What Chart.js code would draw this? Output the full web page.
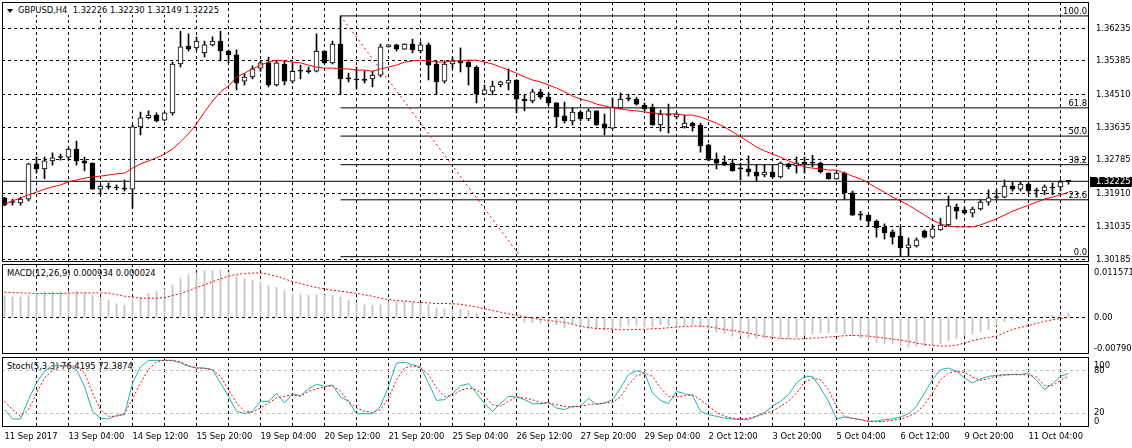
<!DOCTYPE html>
<html>
<head>
<meta charset="utf-8">
<title>GBPUSD,H4</title>
<script src="https://cdn.jsdelivr.net/npm/chart.js@4.4.1/dist/chart.umd.min.js"></script>
<style>
  html, body { margin: 0; padding: 0; background: #ffffff; }
  #chart { position: relative; width: 1132px; height: 448px; overflow: hidden; background: #ffffff;
           font-family: "DejaVu Sans Condensed", "Liberation Sans Narrow", sans-serif;
           font-size: 9.3px; color: #000; }
  #chart canvas { position: absolute; left: 0; z-index: 1; }
  .caption { position: absolute; z-index: 0; white-space: pre; line-height: 12px; }
  #head { position: absolute; left: 3px; top: 3px; width: 218px; height: 12px; background: #fff; z-index: 2; }
  #head .tri { position: absolute; left: 4px; top: 6px; width: 0; height: 0;
               border-left: 3px solid transparent; border-right: 3px solid transparent; border-top: 4px solid #000; }
  #head .txt { position: absolute; left: 15px; top: 1px; white-space: pre; line-height: 12px; }
</style>
</head>
<body>
<div id="chart">
  <div id="head"><div class="tri"></div><div class="txt">GBPUSD,H4  1.32226 1.32230 1.32149 1.32225</div></div>
  <div class="caption" style="left:7px;top:267px">MACD(12,26,9) 0.000934 0.000024</div>
  <div class="caption" style="left:7px;top:360px">Stoch(5,3,3) 76.4195 72.3874</div>
  <canvas id="priceChart" width="1132" height="263" style="top:0"></canvas>
  <canvas id="macdChart" width="1132" height="92" style="top:263px"></canvas>
  <canvas id="stochChart" width="1132" height="93" style="top:355px"></canvas>
</div>
<script>
// H4 bars, oldest first (11 Sep 2017 .. 12 Oct 2017)
const dateLabels = ['11 Sep 2017', '13 Sep 04:00', '14 Sep 12:00', '15 Sep 20:00', '19 Sep 04:00',
  '20 Sep 12:00', '21 Sep 20:00', '25 Sep 04:00', '26 Sep 12:00', '27 Sep 20:00', '29 Sep 04:00',
  '2 Oct 12:00', '3 Oct 20:00', '5 Oct 04:00', '6 Oct 12:00', '9 Oct 20:00', '11 Oct 04:00'];

const openP = [
  1.3179, 1.3168, 1.3166, 1.3176, 1.3268, 1.3255, 1.3276, 1.3286, 1.3286, 1.3307,
  1.3276, 1.3270, 1.3202, 1.3208, 1.3205, 1.3203, 1.3202, 1.3365, 1.3389, 1.3396,
  1.3383, 1.3402, 1.3530, 1.3577, 1.3572, 1.3559, 1.3580, 1.3590, 1.3564, 1.3554,
  1.3485, 1.3496, 1.3519, 1.3533, 1.3475, 1.3530, 1.3485, 1.3512, 1.3510, 1.3511,
  1.3564, 1.3533, 1.3582, 1.3493, 1.3489, 1.3487, 1.3491, 1.3501, 1.3575, 1.3580,
  1.3569, 1.3582, 1.3564, 1.3580, 1.3530, 1.3485, 1.3530, 1.3538, 1.3535, 1.3522,
  1.3451, 1.3459, 1.3475, 1.3480, 1.3488, 1.3438, 1.3433, 1.3457, 1.3443, 1.3428,
  1.3394, 1.3381, 1.3404, 1.3386, 1.3407, 1.3373, 1.3362, 1.3415, 1.3438, 1.3438,
  1.3422, 1.3417, 1.3370, 1.3399, 1.3391, 1.3365, 1.3375, 1.3370, 1.3318, 1.3281,
  1.3273, 1.3270, 1.3256, 1.3255, 1.3247, 1.3239, 1.3247, 1.3234, 1.3268, 1.3263,
  1.3273, 1.3271, 1.3270, 1.3244, 1.3229, 1.3244, 1.3192, 1.3135, 1.3134, 1.3118,
  1.3103, 1.3090, 1.3079, 1.3048, 1.3053, 1.3092, 1.3076, 1.3095, 1.3108, 1.3155,
  1.3147, 1.3139, 1.3150, 1.3168, 1.3181, 1.3181, 1.3210, 1.3202, 1.3215, 1.3198,
  1.3197, 1.3206, 1.3208, 1.32226];
const highP = [
  1.3181, 1.3176, 1.3181, 1.3270, 1.3286, 1.3286, 1.3297, 1.3294, 1.3310, 1.3328,
  1.3286, 1.3271, 1.3213, 1.3218, 1.3213, 1.3226, 1.3370, 1.3404, 1.3407, 1.3402,
  1.3404, 1.3535, 1.3616, 1.3609, 1.3601, 1.3590, 1.3601, 1.3616, 1.3567, 1.3567,
  1.3504, 1.3525, 1.3538, 1.3548, 1.3540, 1.3538, 1.3535, 1.3527, 1.3522, 1.3609,
  1.3565, 1.3590, 1.3656, 1.3506, 1.3522, 1.3511, 1.3511, 1.3582, 1.3581, 1.3582,
  1.3583, 1.3595, 1.3588, 1.3585, 1.3538, 1.3538, 1.3548, 1.3572, 1.3540, 1.3525,
  1.3475, 1.3485, 1.3485, 1.3517, 1.3489, 1.3451, 1.3464, 1.3464, 1.3454, 1.3429,
  1.3430, 1.3415, 1.3407, 1.3412, 1.3408, 1.3399, 1.3441, 1.3454, 1.3451, 1.3443,
  1.3428, 1.3425, 1.3409, 1.3425, 1.3402, 1.3396, 1.3378, 1.3375, 1.3319, 1.3297,
  1.3289, 1.3281, 1.3270, 1.3289, 1.3265, 1.3265, 1.3265, 1.3273, 1.3270, 1.3286,
  1.3286, 1.3291, 1.3273, 1.3245, 1.3247, 1.3247, 1.3197, 1.3144, 1.3135, 1.3121,
  1.3111, 1.3095, 1.3103, 1.3074, 1.3074, 1.3095, 1.3108, 1.3126, 1.3184, 1.3163,
  1.3155, 1.3155, 1.3174, 1.3200, 1.3200, 1.3226, 1.3221, 1.3221, 1.3218, 1.3205,
  1.3213, 1.3218, 1.3226, 1.32230];
const lowP = [
  1.3158, 1.3160, 1.3160, 1.3171, 1.3244, 1.3229, 1.3265, 1.3278, 1.3278, 1.3265,
  1.3250, 1.3201, 1.3187, 1.3202, 1.3200, 1.3197, 1.3152, 1.3344, 1.3386, 1.3378,
  1.3381, 1.3396, 1.3522, 1.3564, 1.3567, 1.3548, 1.3577, 1.3538, 1.3533, 1.3462,
  1.3475, 1.3491, 1.3511, 1.3470, 1.3472, 1.3475, 1.3480, 1.3491, 1.3506, 1.3509,
  1.3530, 1.3530, 1.3451, 1.3483, 1.3464, 1.3480, 1.3470, 1.3496, 1.3574, 1.3564,
  1.3568, 1.3559, 1.3559, 1.3488, 1.3451, 1.3480, 1.3519, 1.3509, 1.3475, 1.3428,
  1.3449, 1.3449, 1.3470, 1.3462, 1.3402, 1.3407, 1.3428, 1.3438, 1.3422, 1.3365,
  1.3375, 1.3370, 1.3381, 1.3381, 1.3369, 1.3344, 1.3360, 1.3412, 1.3433, 1.3422,
  1.3407, 1.3369, 1.3354, 1.3349, 1.3386, 1.3362, 1.3354, 1.3299, 1.3276, 1.3255,
  1.3264, 1.3249, 1.3226, 1.3236, 1.3223, 1.3234, 1.3231, 1.3231, 1.3255, 1.3244,
  1.3244, 1.3260, 1.3244, 1.3228, 1.3228, 1.3176, 1.3133, 1.3121, 1.3105, 1.3076,
  1.3071, 1.3058, 1.3027, 1.3027, 1.3050, 1.3074, 1.3075, 1.3094, 1.3105, 1.3124,
  1.3138, 1.3129, 1.3147, 1.3160, 1.3176, 1.3179, 1.3197, 1.3197, 1.3192, 1.3181,
  1.3187, 1.3187, 1.3197, 1.32149];
const closeP = [
  1.3160, 1.3167, 1.3176, 1.3268, 1.3255, 1.3276, 1.3284, 1.3285, 1.3307, 1.3276,
  1.3270, 1.3202, 1.3210, 1.3207, 1.3206, 1.3202, 1.3365, 1.3389, 1.3396, 1.3381,
  1.3402, 1.3530, 1.3575, 1.3569, 1.3590, 1.3580, 1.3590, 1.3564, 1.3554, 1.3480,
  1.3496, 1.3517, 1.3533, 1.3475, 1.3533, 1.3485, 1.3511, 1.3511, 1.3511, 1.3564,
  1.3533, 1.3582, 1.3491, 1.3491, 1.3488, 1.3488, 1.3501, 1.3575, 1.3580, 1.3569,
  1.3582, 1.3567, 1.3580, 1.3527, 1.3483, 1.3530, 1.3538, 1.3533, 1.3522, 1.3451,
  1.3462, 1.3472, 1.3483, 1.3488, 1.3438, 1.3433, 1.3457, 1.3443, 1.3428, 1.3391,
  1.3381, 1.3404, 1.3386, 1.3407, 1.3370, 1.3362, 1.3417, 1.3438, 1.3439, 1.3425,
  1.3412, 1.3370, 1.3399, 1.3396, 1.3399, 1.3375, 1.3367, 1.3315, 1.3278, 1.3270,
  1.3265, 1.3250, 1.3255, 1.3247, 1.3236, 1.3247, 1.3234, 1.3270, 1.3260, 1.3270,
  1.3268, 1.3270, 1.3247, 1.3229, 1.3244, 1.3192, 1.3134, 1.3134, 1.3118, 1.3100,
  1.3087, 1.3076, 1.3048, 1.3056, 1.3069, 1.3076, 1.3098, 1.3108, 1.3158, 1.3144,
  1.3139, 1.3150, 1.3168, 1.3179, 1.3180, 1.3210, 1.3202, 1.3215, 1.3197, 1.3197,
  1.3208, 1.3205, 1.3221, 1.32225];

// red moving average on the price window
const maLine = [
  1.3163, 1.3171, 1.3179, 1.3187, 1.3194, 1.3202, 1.3208, 1.3213, 1.3221, 1.3226,
  1.3231, 1.3234, 1.3236, 1.3239, 1.3242, 1.3244, 1.3257, 1.3268, 1.3276, 1.3284,
  1.3294, 1.3307, 1.3326, 1.3347, 1.3373, 1.3404, 1.3433, 1.3457, 1.3472, 1.3496,
  1.3506, 1.3517, 1.3527, 1.3535, 1.3540, 1.3538, 1.3535, 1.3533, 1.3527, 1.3522,
  1.3519, 1.3519, 1.3517, 1.3517, 1.3514, 1.3514, 1.3511, 1.3517, 1.3522, 1.3527,
  1.3535, 1.3538, 1.3540, 1.3538, 1.3535, 1.3535, 1.3538, 1.3538, 1.3540, 1.3540,
  1.3535, 1.3530, 1.3522, 1.3514, 1.3506, 1.3496, 1.3488, 1.3483, 1.3475, 1.3467,
  1.3457, 1.3446, 1.3438, 1.3433, 1.3425, 1.3420, 1.3415, 1.3412, 1.3409, 1.3407,
  1.3404, 1.3402, 1.3399, 1.3399, 1.3399, 1.3396, 1.3396, 1.3391, 1.3383, 1.3375,
  1.3365, 1.3352, 1.3339, 1.3326, 1.3312, 1.3302, 1.3294, 1.3286, 1.3276, 1.3268,
  1.3260, 1.3257, 1.3255, 1.3252, 1.3252, 1.3244, 1.3236, 1.3229, 1.3218, 1.3205,
  1.3194, 1.3181, 1.3171, 1.3160, 1.3147, 1.3134, 1.3121, 1.3111, 1.3105, 1.3103,
  1.3103, 1.3103, 1.3108, 1.3116, 1.3124, 1.3134, 1.3144, 1.3152, 1.3160, 1.3168,
  1.3176, 1.3181, 1.3187, 1.3194];

const priceTicks = [1.30185, 1.31035, 1.31910, 1.32785, 1.33635, 1.34510, 1.35385, 1.36235];

// Fibonacci retracement from the 20 Sep high (bar 42) to the 6 Oct low
const fibLevels = ['0.0', '23.6', '38.2', '50.0', '61.8', '100.0'];
const fibPrices = [1.3025, 1.3174, 1.3266, 1.3341, 1.3415, 1.3656];
const fibStartBar = 42;
const fibTrendBars = [42, 64.5];
const fibTrendPrices = [1.3656, 1.3025];

const macdMain = [
  0.00475, 0.00439, 0.00439, 0.00475, 0.00518, 0.00546, 0.00546, 0.00546, 0.00561, 0.00568,
  0.00532, 0.00475, 0.00439, 0.00367, 0.00295, 0.00259, 0.00388, 0.00439, 0.00525, 0.00561,
  0.00618, 0.00705, 0.00848, 0.00928, 0.00963, 0.01007, 0.01014, 0.01021, 0.00978, 0.00906,
  0.00834, 0.00805, 0.00762, 0.00690, 0.00654, 0.00582, 0.00510, 0.00503, 0.00475, 0.00489,
  0.00489, 0.00475, 0.00439, 0.00367, 0.00331, 0.00273, 0.00259, 0.00273, 0.00345, 0.00331,
  0.00331, 0.00331, 0.00309, 0.00273, 0.00201, 0.00187, 0.00173, 0.00173, 0.00151, 0.00079,
  0.00029, 0.00005, -0.00005, -0.00014, -0.00029, -0.00101, -0.00115, -0.00115, -0.00137, -0.00158,
  -0.00216, -0.00137, -0.00209, -0.00244, -0.00259, -0.00280, -0.00244, -0.00209, -0.00173, -0.00173,
  -0.00209, -0.00209, -0.00158, -0.00173, -0.00187, -0.00173, -0.00158, -0.00209, -0.00244, -0.00316,
  -0.00352, -0.00403, -0.00403, -0.00446, -0.00460, -0.00446, -0.00431, -0.00446, -0.00460, -0.00431,
  -0.00388, -0.00352, -0.00331, -0.00331, -0.00331, -0.00352, -0.00388, -0.00446, -0.00475, -0.00532,
  -0.00568, -0.00568, -0.00618, -0.00640, -0.00618, -0.00618, -0.00604, -0.00568, -0.00496, -0.00446,
  -0.00403, -0.00352, -0.00302, -0.00259, -0.00173, -0.00086, -0.00043, -0.00029, -0.00014, 0.00003,
  0.00029, 0.00043, 0.00058, 0.00093];
const macdSignal = [
  0.00546, 0.00539, 0.00532, 0.00525, 0.00518, 0.00518, 0.00518, 0.00518, 0.00525, 0.00532,
  0.00532, 0.00532, 0.00532, 0.00525, 0.00496, 0.00460, 0.00439, 0.00417, 0.00417, 0.00417,
  0.00431, 0.00475, 0.00518, 0.00575, 0.00647, 0.00705, 0.00777, 0.00834, 0.00892, 0.00935,
  0.00949, 0.00963, 0.00963, 0.00935, 0.00892, 0.00834, 0.00777, 0.00733, 0.00690, 0.00647,
  0.00618, 0.00590, 0.00568, 0.00546, 0.00525, 0.00489, 0.00460, 0.00417, 0.00388, 0.00367,
  0.00352, 0.00338, 0.00324, 0.00316, 0.00302, 0.00302, 0.00295, 0.00288, 0.00259, 0.00230,
  0.00187, 0.00151, 0.00115, 0.00079, 0.00043, 0.00014, -0.00014, -0.00043, -0.00065, -0.00086,
  -0.00108, -0.00144, -0.00194, -0.00216, -0.00237, -0.00244, -0.00252, -0.00266, -0.00266, -0.00259,
  -0.00259, -0.00244, -0.00237, -0.00223, -0.00209, -0.00194, -0.00187, -0.00187, -0.00201, -0.00230,
  -0.00259, -0.00280, -0.00309, -0.00338, -0.00381, -0.00410, -0.00431, -0.00453, -0.00460, -0.00467,
  -0.00460, -0.00446, -0.00439, -0.00424, -0.00410, -0.00395, -0.00388, -0.00395, -0.00403, -0.00424,
  -0.00446, -0.00467, -0.00489, -0.00518, -0.00554, -0.00582, -0.00604, -0.00618, -0.00618, -0.00597,
  -0.00554, -0.00503, -0.00460, -0.00431, -0.00403, -0.00331, -0.00259, -0.00216, -0.00173, -0.00129,
  -0.00086, -0.00050, -0.00022, 0.00002];

const stochK = [
  24.8, 11.5, 11.5, 39.1, 62.9, 79.5, 87.6, 87.6, 87.6, 81.9,
  58.1, 22.4, 12.4, 11.5, 16.7, 17.6, 62.9, 85.7, 95.2, 95.2,
  95.2, 95.2, 91.4, 86.7, 84.3, 84.3, 81.9, 62.9, 43.8, 22.4,
  19.0, 22.4, 36.7, 36.7, 47.6, 34.3, 47.1, 44.8, 54.3, 61.0,
  58.1, 60.0, 42.9, 36.7, 19.0, 19.0, 19.0, 29.5, 58.1, 91.4,
  92.4, 89.0, 85.7, 62.9, 38.1, 39.1, 47.6, 59.0, 61.9, 48.6,
  33.3, 22.4, 33.3, 43.8, 42.9, 39.1, 33.3, 33.3, 35.2, 27.1,
  24.8, 29.5, 29.5, 41.4, 31.9, 34.3, 39.1, 55.7, 74.8, 80.5,
  77.1, 48.6, 38.1, 33.3, 51.0, 47.6, 44.8, 22.4, 17.6, 15.3,
  12.9, 11.5, 10.5, 10.5, 15.3, 21.0, 29.5, 36.7, 46.2, 62.9,
  72.4, 72.4, 55.7, 36.7, 11.5, 14.3, 12.4, 10.5, 7.6, 8.6,
  10.5, 11.5, 14.3, 19.0, 29.5, 48.6, 67.6, 81.9, 84.3, 79.5,
  70.0, 62.9, 68.6, 72.4, 73.8, 74.8, 75.2, 75.2, 77.1, 66.7,
  53.3, 61.9, 72.4, 76.4];
const stochD = [
  36.7, 24.8, 15.3, 24.8, 48.6, 70.0, 81.0, 86.7, 87.6, 86.7,
  77.1, 48.6, 24.8, 15.3, 15.3, 19.0, 40.0, 62.9, 81.9, 93.3,
  95.2, 95.2, 93.3, 87.6, 84.3, 83.8, 81.9, 72.4, 53.3, 34.3,
  22.4, 21.0, 27.2, 34.3, 41.4, 43.8, 46.2, 43.8, 51.0, 54.3,
  57.2, 59.0, 51.0, 36.7, 27.2, 22.4, 21.0, 24.8, 41.4, 67.6,
  84.3, 87.6, 84.3, 74.8, 55.7, 43.8, 44.8, 52.4, 55.7, 53.3,
  43.8, 31.9, 29.5, 36.7, 42.9, 41.4, 39.1, 34.3, 34.3, 31.9,
  29.5, 28.6, 29.5, 31.9, 33.3, 34.3, 35.2, 42.9, 60.5, 73.3,
  77.1, 72.4, 55.7, 43.8, 42.9, 44.8, 46.2, 39.1, 29.5, 21.0,
  15.3, 12.4, 11.5, 12.4, 15.3, 19.0, 22.9, 29.5, 36.7, 48.6,
  63.8, 69.5, 67.6, 53.3, 29.5, 15.3, 12.4, 10.5, 8.6, 7.6,
  8.1, 9.6, 11.5, 15.3, 21.0, 31.9, 48.6, 67.6, 77.1, 79.5,
  78.1, 71.4, 66.7, 69.5, 72.4, 73.8, 74.8, 74.8, 74.3, 71.4,
  59.0, 59.0, 66.7, 72.4];

const FONT = '"DejaVu Sans Condensed", "Liberation Sans Narrow", sans-serif';
const FONT_PX = 9.3;
Chart.defaults.font.family = FONT;
Chart.defaults.font.size = FONT_PX;
Chart.defaults.color = '#000';

// visible bar window: 8 px per bar, plot 2..1089
const xMin = -0.3125;
const xMax = 135.5625;
const gridBars = Array.from({ length: 33 }, (_, k) => 4 * (k + 1));
const lastClose = closeP[closeP.length - 1];
const pts = (arr) => arr.map((v, i) => ({ x: i, y: v }));

// keep the plot edges where they are: no extra room for tick labels
function fitY(s) {
  s.width = 43;
  s.paddingTop = 0;
  s.paddingBottom = 0;
}

function xAxis(withLabels) {
  return {
    type: 'linear', min: xMin, max: xMax, offset: false, bounds: 'data',
    afterBuildTicks: (s) => { s.ticks = (withLabels ? [0].concat(gridBars) : gridBars).map(v => ({ value: v })); },
    afterFit: (s) => { s.height = withLabels ? 21 : 0; s.paddingLeft = 0; s.paddingRight = 0; },
    grid: { offset: false, drawTicks: false, color: (c) => (c.tick && c.tick.value === 0 ? 'rgba(0,0,0,0)' : '#000') },
    border: { display: false, dash: [3, 3] },
    ticks: {
      display: withLabels, autoSkip: false, maxRotation: 0, minRotation: 0, align: 'start', padding: 4,
      callback: (v) => (v % 8 === 0 ? dateLabels[v / 8] : '')
    }
  };
}

const frame = {
  id: 'frame',
  afterDraw(chart) {
    const { ctx, chartArea: a } = chart;
    ctx.save();
    ctx.strokeStyle = '#000';
    ctx.lineWidth = 1;
    ctx.strokeRect(Math.round(a.left) + 0.5, Math.round(a.top) + 0.5,
      Math.round(a.right - a.left) - 1, Math.round(a.bottom - a.top) - 1);
    ctx.restore();
  }
};

const edgeLabels = {
  id: 'edgeLabels',
  afterDraw(chart, args, opts) {
    const { ctx, chartArea: a } = chart;
    ctx.save();
    ctx.font = FONT_PX + 'px ' + FONT;
    ctx.fillStyle = '#000';
    ctx.textAlign = 'left';
    ctx.textBaseline = 'alphabetic';
    ctx.fillText(opts.top, a.right + 5, a.top + 11);
    ctx.fillText(opts.bottom, a.right + 5, a.bottom - 3);
    ctx.restore();
  }
};

const fibText = {
  id: 'fibText',
  afterDatasetsDraw(chart) {
    const { ctx, chartArea: a, scales: { y } } = chart;
    ctx.save();
    ctx.font = FONT_PX + 'px ' + FONT;
    ctx.fillStyle = '#000';
    ctx.textAlign = 'right';
    ctx.textBaseline = 'alphabetic';
    fibPrices.forEach((p, k) => ctx.fillText(fibLevels[k], a.right - 2, Math.round(y.getPixelForValue(p)) - 2));
    ctx.restore();
  }
};

const priceBox = {
  id: 'priceBox',
  afterDraw(chart) {
    const { ctx, chartArea: a, scales: { y } } = chart;
    const py = Math.round(y.getPixelForValue(lastClose));
    ctx.save();
    ctx.fillStyle = '#000';
    ctx.fillRect(a.right + 1, py - 4, chart.width - a.right - 1, 10);
    ctx.fillStyle = '#fff';
    ctx.font = FONT_PX + 'px ' + FONT;
    ctx.textBaseline = 'middle';
    ctx.fillText(lastClose.toFixed(5), a.right + 7, py + 1);
    ctx.restore();
  }
};

const common = { responsive: false, maintainAspectRatio: false, animation: false, events: [] };

// price window
new Chart(document.getElementById('priceChart'), {
  type: 'bar',
  data: {
    datasets: [
      {
        type: 'line', label: 'MA', data: pts(maLine), borderColor: '#ff0000', borderWidth: 1,
        pointRadius: 0, order: 0
      },
      {
        type: 'bar', label: 'body', data: openP.map((o, i) => ({ x: i, y: [o, closeP[i]] })),
        backgroundColor: openP.map((o, i) => (closeP[i] - o > 0.00015 ? '#ffffff' : '#000000')),
        borderColor: '#000', borderWidth: 1, borderSkipped: false,
        barThickness: 5, minBarLength: 1, grouped: false, order: 1
      },
      {
        type: 'bar', label: 'wick', data: highP.map((h, i) => ({ x: i, y: [lowP[i], h] })),
        backgroundColor: '#000', barThickness: 1, grouped: false, order: 2
      },
      {
        type: 'line', label: 'bid', data: [{ x: xMin, y: lastClose }, { x: xMax, y: lastClose }],
        borderColor: '#000', borderWidth: 1, pointRadius: 0, order: 3
      },
      {
        type: 'line', label: 'fib trend',
        data: fibTrendBars.map((b, k) => ({ x: b, y: fibTrendPrices[k] })),
        borderColor: '#ff0000', borderWidth: 1, borderDash: [2, 3], pointRadius: 0, order: 3
      },
      ...fibPrices.map(p => ({
        type: 'line', label: 'fib', data: [{ x: fibStartBar, y: p }, { x: xMax, y: p }],
        borderColor: '#000', borderWidth: 1, pointRadius: 0, order: 4
      }))
    ]
  },
  options: {
    ...common,
    layout: { autoPadding: false, padding: { left: 2, top: 2, right: 0, bottom: 1 } },
    plugins: { legend: { display: false }, tooltip: { enabled: false } },
    scales: {
      x: xAxis(false),
      y: {
        type: 'linear', position: 'right', min: 1.3011, max: 1.369246, bounds: 'data',
        afterBuildTicks: (s) => { s.ticks = priceTicks.map(v => ({ value: v })); },
        afterFit: fitY,
        grid: { color: '#000', drawTicks: false },
        border: { display: false, dash: [3, 3] },
        ticks: { padding: 7, callback: (v) => v.toFixed(5) }
      }
    }
  },
  plugins: [frame, fibText, priceBox]
});

// MACD(12,26,9)
new Chart(document.getElementById('macdChart'), {
  type: 'bar',
  data: {
    datasets: [
      {
        type: 'line', label: 'signal', data: pts(macdSignal), borderColor: '#ff0000', borderWidth: 1,
        borderDash: [2, 2], pointRadius: 0, order: 0
      },
      {
        type: 'bar', label: 'MACD', data: pts(macdMain), backgroundColor: '#c0c0c0',
        barThickness: 1, grouped: false, order: 1
      }
    ]
  },
  options: {
    ...common,
    layout: { autoPadding: false, padding: { left: 2, top: 1, right: 0, bottom: 1 } },
    plugins: { legend: { display: false }, tooltip: { enabled: false },
      edgeLabels: { top: '0.011571', bottom: '-0.007904' } },
    scales: {
      x: xAxis(false),
      y: {
        type: 'linear', position: 'right', min: -0.007904, max: 0.011571, bounds: 'data',
        afterBuildTicks: (s) => { s.ticks = [{ value: 0 }]; },
        afterFit: fitY,
        grid: { color: '#000', drawTicks: false },
        border: { display: false, dash: [3, 3] },
        ticks: { padding: 5, callback: () => '0.00' }
      }
    }
  },
  plugins: [frame, edgeLabels]
});

// Stochastic(5,3,3)
new Chart(document.getElementById('stochChart'), {
  type: 'line',
  data: {
    datasets: [
      {
        label: '%K', data: pts(stochK), borderColor: '#20b2aa', borderWidth: 1, pointRadius: 0, order: 1
      },
      {
        label: '%D', data: pts(stochD), borderColor: '#ff0000', borderWidth: 1, borderDash: [2, 2],
        pointRadius: 0, order: 0
      }
    ]
  },
  options: {
    ...common,
    layout: { autoPadding: false, padding: { left: 2, top: 2, right: 0, bottom: 0 } },
    plugins: { legend: { display: false }, tooltip: { enabled: false },
      edgeLabels: { top: '100', bottom: '0' } },
    scales: {
      x: xAxis(true),
      y: {
        type: 'linear', position: 'right', min: 0, max: 100, bounds: 'data',
        afterBuildTicks: (s) => { s.ticks = [{ value: 20 }, { value: 80 }]; },
        afterFit: fitY,
        grid: { color: '#c0c0c0', drawTicks: false },
        border: { display: false, dash: [3, 3] },
        ticks: { padding: 5, callback: (v) => String(v) }
      }
    }
  },
  plugins: [frame, edgeLabels]
});
</script>
</body>
</html>
